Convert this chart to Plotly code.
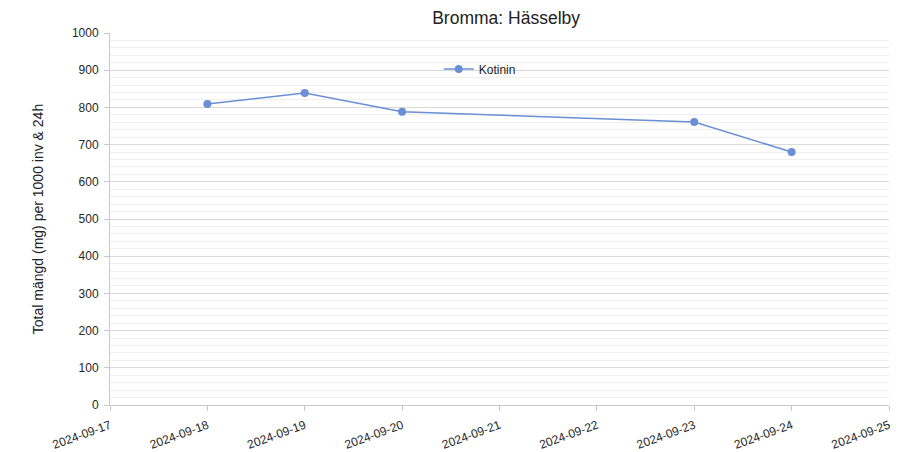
import plotly.graph_objects as go

dates = ["2024-09-18", "2024-09-19", "2024-09-20", "2024-09-23", "2024-09-24"]
kotinin = [809, 839, 788, 761, 680]

fig = go.Figure()
fig.add_trace(
    go.Scatter(
        x=dates,
        y=kotinin,
        mode="lines+markers",
        name="Kotinin",
        line=dict(color="#6a8fd4", width=1.5),
        marker=dict(color="#6a8fd4", size=8),
    )
)

# page body has an 8px margin, so the figure is a little smaller than the window
fig.update_layout(
    width=904,
    height=444,
    margin=dict(l=102, r=23, t=25, b=47, autoexpand=False),
    paper_bgcolor="white",
    plot_bgcolor="white",
    font=dict(family="Liberation Sans, Arial", size=11, color="#333333"),
    title=dict(
        text="Bromma: Hässelby",
        x=0.551,
        xanchor="center",
        y=0.977,
        yanchor="middle",
        font=dict(size=17.5, color="#222222"),
    ),
    showlegend=True,
    legend=dict(
        x=0.422,
        y=0.903,
        xanchor="left",
        yanchor="middle",
        bgcolor="rgba(0,0,0,0)",
        font=dict(size=12, color="#222222"),
    ),
)

fig.update_xaxes(
    type="date",
    range=["2024-09-17", "2024-09-25"],
    dtick=86400000,
    tickformat="%Y-%m-%d",
    tickangle=-20,
    automargin=False,
    showgrid=False,
    showline=True,
    linecolor="#c8c8c8",
    linewidth=1,
    ticks="outside",
    ticklen=5,
    tickcolor="#c8c8c8",
    ticklabelstandoff=3,
    tickfont=dict(size=12, color="#262626"),
)

fig.update_yaxes(
    range=[0, 1000],
    dtick=100,
    automargin=False,
    showgrid=True,
    gridcolor="#d9d9d9",
    gridwidth=1,
    minor=dict(dtick=20, showgrid=True, gridcolor="#efefef", gridwidth=1),
    showline=True,
    linecolor="#c8c8c8",
    linewidth=1,
    ticks="outside",
    ticklen=5,
    tickcolor="#c8c8c8",
    ticklabelstandoff=3,
    zeroline=False,
    title=dict(text="Total mängd (mg) per 1000 inv & 24h", font=dict(size=14, color="#222222"), standoff=24),
    tickfont=dict(size=12, color="#262626"),
)

fig.write_html("out.html")
